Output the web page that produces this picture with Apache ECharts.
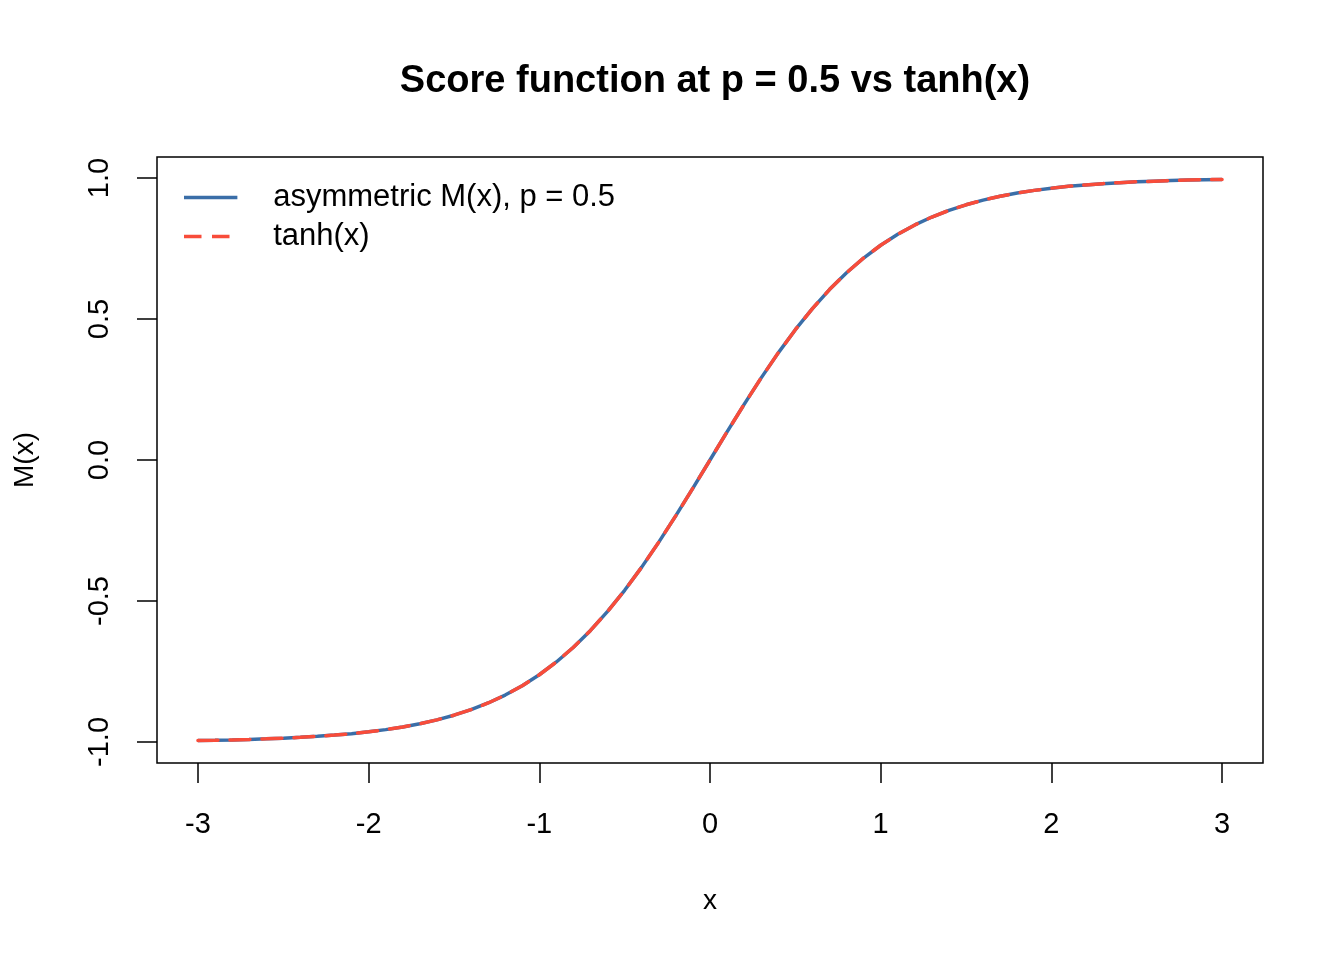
<!DOCTYPE html>
<html>
<head>
<meta charset="utf-8">
<script src="https://cdn.jsdelivr.net/npm/echarts@6/dist/echarts.min.js"></script>
<style>
html,body{margin:0;padding:0;background:#fff;}
#chart{width:1344px;height:960px;}
</style>
</head>
<body>
<div id="chart"></div>
<script>
// x grid of the curves
var xValues = [-3.0,-2.9,-2.8,-2.7,-2.6,-2.5,-2.4,-2.3,-2.2,-2.1,-2.0,-1.9,-1.8,-1.7,-1.6,-1.5,-1.4,-1.3,-1.2,-1.1,-1.0,-0.9,-0.8,-0.7,-0.6,-0.5,-0.4,-0.3,-0.2,-0.1,0.0,0.1,0.2,0.3,0.4,0.5,0.6,0.7,0.8,0.9,1.0,1.1,1.2,1.3,1.4,1.5,1.6,1.7,1.8,1.9,2.0,2.1,2.2,2.3,2.4,2.5,2.6,2.7,2.8,2.9,3.0];
// asymmetric M(x), p = 0.5
var mValues = [-0.995,-0.994,-0.9926,-0.991,-0.989,-0.9866,-0.9837,-0.9801,-0.9757,-0.9705,-0.964,-0.9562,-0.9468,-0.9354,-0.9217,-0.9051,-0.8854,-0.8617,-0.8337,-0.8005,-0.7616,-0.7163,-0.664,-0.6044,-0.537,-0.4621,-0.3799,-0.2913,-0.1974,-0.0997,0.0,0.0997,0.1974,0.2913,0.3799,0.4621,0.537,0.6044,0.664,0.7163,0.7616,0.8005,0.8337,0.8617,0.8854,0.9051,0.9217,0.9354,0.9468,0.9562,0.964,0.9705,0.9757,0.9801,0.9837,0.9866,0.989,0.991,0.9926,0.994,0.995];
// tanh(x)
var tanhValues = [-0.995,-0.994,-0.9926,-0.991,-0.989,-0.9866,-0.9837,-0.9801,-0.9757,-0.9705,-0.964,-0.9562,-0.9468,-0.9354,-0.9217,-0.9051,-0.8854,-0.8617,-0.8337,-0.8005,-0.7616,-0.7163,-0.664,-0.6044,-0.537,-0.4621,-0.3799,-0.2913,-0.1974,-0.0997,0.0,0.0997,0.1974,0.2913,0.3799,0.4621,0.537,0.6044,0.664,0.7163,0.7616,0.8005,0.8337,0.8617,0.8854,0.9051,0.9217,0.9354,0.9468,0.9562,0.964,0.9705,0.9757,0.9801,0.9837,0.9866,0.989,0.991,0.9926,0.994,0.995];
var xTicks = [-3,-2,-1,0,1,2,3];
var yTicks = [-1.0,-0.5,0.0,0.5,1.0];
var seriesNames = ['asymmetric M(x), p = 0.5','tanh(x)'];
var titleText = 'Score function at p = 0.5 vs tanh(x)';

function pairs(xs, ys){ return xs.map(function(x,i){ return [x, ys[i]]; }); }

var FONT = 'Liberation Sans, Arial, Helvetica, sans-serif';
var BLUE = '#3a6ea8', RED = '#f84c3a';
var chart = echarts.init(document.getElementById('chart'), null, {renderer:'canvas'});
chart.setOption({
  backgroundColor:'#ffffff',
  animation:false,
  title:{
    text:titleText, left:710, top:58, textAlign:'center',
    textStyle:{fontFamily:FONT, fontSize:38, fontWeight:'bold', color:'#000'}
  },
  legend:{
    left:179, top:177, orient:'vertical', itemWidth:61, itemHeight:3.5, itemGap:8,
    textStyle:{fontFamily:FONT, fontSize:31, lineHeight:31, color:'#000', padding:[0,0,0,27]},
    data:[
      {name:seriesNames[0], icon:'path://M0,0h61v4h-61z', itemStyle:{color:BLUE}},
      {name:seriesNames[1], icon:'path://M0,0h20v4h-20zM32,0h20v4h-20zM60,0h1v0.01h-1z', itemStyle:{color:RED}}
    ]
  },
  grid:{left:157, right:81, top:157, bottom:197, show:true, borderColor:'#000', borderWidth:1.5,
        backgroundColor:'transparent', containLabel:false, outerBoundsMode:'none'},
  xAxis:{
    type:'value', min:-3.24, max:3.24,
    name:'x', nameLocation:'middle', nameGap:124,
    nameTextStyle:{fontFamily:FONT, fontSize:28, color:'#000'},
    axisLine:{show:false, onZero:false},
    splitLine:{show:false},
    axisTick:{show:true, length:20, customValues:xTicks, lineStyle:{color:'#000', width:1.5}},
    axisLabel:{customValues:xTicks, margin:47, fontFamily:FONT, fontSize:29, color:'#000'}
  },
  yAxis:{
    type:'value', min:-1.0746, max:1.0746,
    name:'M(x)', nameLocation:'middle', nameGap:118, nameRotate:90,
    nameTextStyle:{fontFamily:FONT, fontSize:28, color:'#000'},
    axisLine:{show:false, onZero:false},
    splitLine:{show:false},
    axisTick:{show:true, length:20, customValues:yTicks, lineStyle:{color:'#000', width:1.5}},
    axisLabel:{customValues:yTicks, rotate:90, margin:43, fontFamily:FONT, fontSize:29, color:'#000',
      formatter:function(v){ return v.toFixed(1); }}
  },
  series:[
    {name:seriesNames[0], type:'line', data:pairs(xValues,mValues), showSymbol:false, symbol:'none',
     color:BLUE, lineStyle:{color:BLUE, width:3.5}},
    {name:seriesNames[1], type:'line', data:pairs(xValues,tanhValues), showSymbol:false, symbol:'none',
     color:RED, lineStyle:{color:RED, width:3.5, type:[20,12], cap:'round'}}
  ]
});
</script>
</body>
</html>
